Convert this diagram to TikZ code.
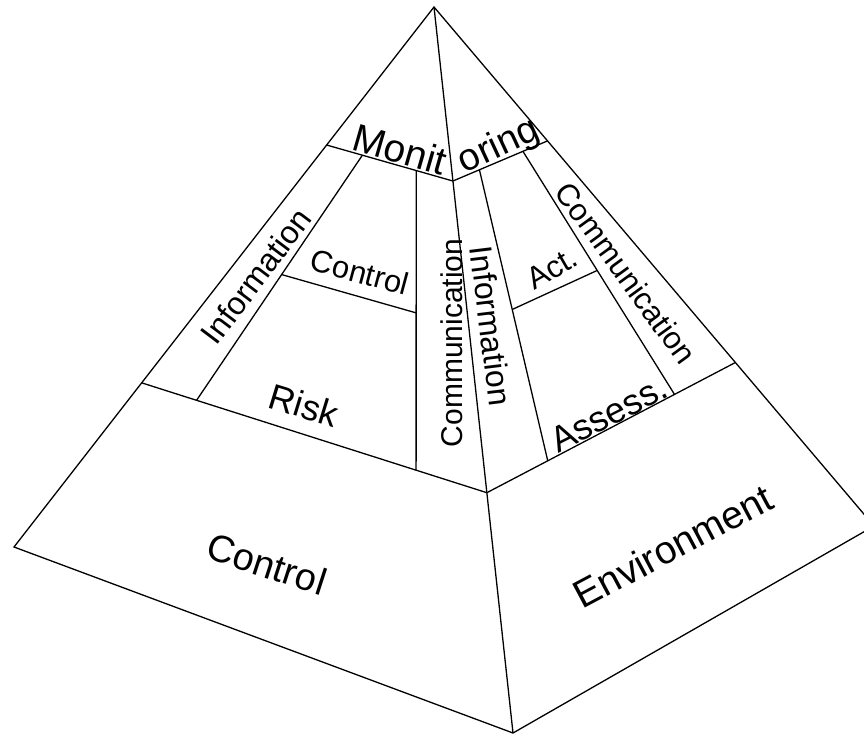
\documentclass[tikz,border=0pt]{standalone}
\usepackage{fontspec}
\setmainfont{Liberation Sans}
\usetikzlibrary{calc}
\begin{document}
\begin{tikzpicture}[x=1pt,y=-1pt,
  edge/.style={line width=1.3pt,line join=miter},
  lbl/.style={inner sep=0pt,font=\fontsize{#1}{#1}\selectfont}]
\useasboundingbox (0,0) rectangle (864,735);
\clip (0,0) rectangle (864,735);
% main corners
\coordinate (A) at (434,7);
\coordinate (L) at (14,547);
\coordinate (B) at (513,733);
\coordinate (R) at (874,526);
% band points
\coordinate (P2) at ($(A)!0.2556!(L)$);
\coordinate (P1) at ($(A)!0.696!(L)$);
\coordinate (M2) at ($(A)!0.2397!(B)$);
\coordinate (M1) at ($(A)!0.669!(B)$);
\coordinate (Q2) at ($(A)!0.258!(R)$);
\coordinate (Q1) at ($(A)!0.685!(R)$);
% left face
\coordinate (I1) at ($(P2)!0.283!(M2)$);
\coordinate (I2) at ($(P1)!0.159!(M1)$);
\coordinate (V1) at ($(P2)!0.709!(M2)$);
\coordinate (V2) at ($(P1)!0.795!(M1)$);
\coordinate (C1) at ($(I1)!0.487!(I2)$);
\coordinate (C2) at ($(V1)!0.475!(V2)$);
% right face
\coordinate (J1) at ($(M2)!0.28!(Q2)$);
\coordinate (J2) at ($(M1)!0.245!(Q1)$);
\coordinate (K1) at ($(M2)!0.74!(Q2)$);
\coordinate (K2) at ($(M1)!0.755!(Q1)$);
\coordinate (G1) at ($(J1)!0.48!(J2)$);
\coordinate (G2) at ($(K1)!0.49!(K2)$);
% outline
\draw[edge] (L) -- (A) -- (R) -- (B) -- cycle;
\draw[edge] (A) -- (B);
% bands
\draw[edge] (P1) -- (M1) -- (Q1);
\draw[edge] (P2) -- (M2) -- (Q2);
% inner lines
\draw[edge] (I1) -- (I2);
\draw[edge] (V1) -- (V2);
\draw[edge] (C1) -- (C2);
\draw[edge] (J1) -- (J2);
\draw[edge] (K1) -- (K2);
\draw[edge] (G1) -- (G2);
% labels
\node[lbl=39,rotate=-16] (monit) at (400,149) {Monit};
\node[lbl=38,rotate=25] (oring) at (499,147) {oring};
\node[lbl=32,rotate=53] (infoL) at (256,276) {Information};
\node[lbl=31,rotate=-15] (ctrlM) at (360,272) {Control};
\node[lbl=36,rotate=-17] (risk) at (304,405) {Risk};
\node[lbl=30,rotate=90] (commL) at (452,343) {Communication};
\node[lbl=32,rotate=-83] (infoR) at (491,326) {Information};
\node[lbl=31,rotate=30] (act) at (552,268) {Act.};
\node[lbl=31,rotate=-54] (commR) at (626,273) {Communication};
\node[lbl=36,rotate=27] (assess) at (609,414) {Assess.};
\node[lbl=38,rotate=-18] (ctrlB) at (267,564) {Control};
\node[lbl=39,rotate=28] (env) at (673,546) {Environment};
\end{tikzpicture}
\end{document}
